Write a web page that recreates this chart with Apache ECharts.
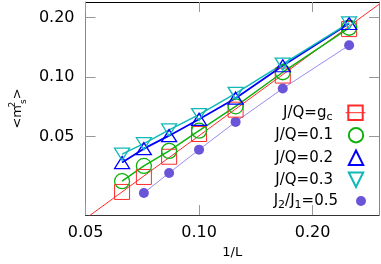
<!DOCTYPE html>
<html><head><meta charset="utf-8">
<script src="https://cdn.jsdelivr.net/npm/echarts@6/dist/echarts.min.js"></script>
<style>html,body{margin:0;padding:0;background:#fff}#c{width:381px;height:264px}</style>
</head><body><div id="c"></div>
<script>
// 1/L for L = 16,14,12,10,8,6,4
const invL = [0.0625, 0.0714, 0.0833, 0.1, 0.125, 0.1667, 0.25];
const mGc  = [0.0262, 0.0312, 0.0395, 0.0515, 0.0684, 0.1018, 0.175];
const mQ01 = [0.0297, 0.0355, 0.0423, 0.0535, 0.0711, 0.1058, 0.1777];
const mQ02 = [0.0369, 0.0434, 0.0505, 0.0611, 0.0782, 0.1141, 0.1868];
const mQ03 = [0.0407, 0.0460, 0.0540, 0.0646, 0.0827, 0.1163, 0.1880];
// 1/L for L = 14,12,10,8,6,4
const invLJ = [0.0714, 0.0833, 0.1, 0.125, 0.1667, 0.25];
const mJ2  = [0.0259, 0.0327, 0.0429, 0.0593, 0.0875, 0.1449];
// fitted line end points
const fitX = [0.05, 0.30];
const fitY = [0.0192, 0.2336];
const xTicks = [0.05, 0.10, 0.20];
const yTicks = [0.05, 0.10, 0.20];
const names = ['J/Q=gc', 'J/Q=0.1', 'J/Q=0.2', 'J/Q=0.3', 'J2/J1=0.5'];

const FONT = 'DejaVu Sans';
const pair = (xs, ys) => xs.map((x, i) => [x, ys[i]]);
const richNames = {
  'J/Q=gc': '{t|J/Q=g}{s|c}',
  'J/Q=0.1': '{t|J/Q=0.1}',
  'J/Q=0.2': '{t|J/Q=0.2}',
  'J/Q=0.3': '{t|J/Q=0.3}',
  'J2/J1=0.5': '{t|J}{s|2}{t|/J}{s|1}{t|=0.5}'
};
const colors = ['#ff2a2a', '#10b010', '#0000ff', '#10b8b8', '#6a55d8'];
const downTri = 'path://M0,0L10,0L5,8.5Z';

function mkAxis(dim, pos, isMain) {
  const isX = dim === 'x';
  const ticks = isX ? xTicks : yTicks;
  const ax = {
    type: 'log', logBase: 10, position: pos,
    min: isX ? 0.05 : 0.02, max: isX ? 0.3 : 0.24,
    splitLine: { show: false }, minorTick: { show: false }, minorSplitLine: { show: false },
    axisLine: { show: true, onZero: false, lineStyle: { color: pos === 'top' ? '#000' : (pos === 'bottom' ? '#333' : '#888'), width: 1 } },
    axisTick: { show: true, inside: true, length: 10, customValues: ticks, lineStyle: { color: '#999', width: 1 } },
    axisLabel: { show: isMain, customValues: ticks, formatter: v => Number(v).toFixed(2),
      fontFamily: FONT, fontSize: 16, color: '#000', margin: isX ? 10 : 11 }
  };
  if (isMain && isX) {
    Object.assign(ax, { name: '1/L', nameLocation: 'middle', nameGap: 29,
      nameTextStyle: { fontFamily: FONT, fontSize: 13, color: '#000' } });
  }
  if (isMain && !isX) {
    Object.assign(ax, { name: '{m|<m}{sup|2}{sub|s}{m|>}', nameLocation: 'middle', nameGap: 57, nameRotate: 90,
      nameTextStyle: { fontFamily: FONT, fontSize: 13, color: '#000',
        rich: {
          m: { fontFamily: FONT, fontSize: 13, lineHeight: 20, color: '#000' },
          sup: { fontFamily: FONT, fontSize: 9, lineHeight: 9, verticalAlign: 'top', color: '#000', width: 1 },
          sub: { fontFamily: FONT, fontSize: 9, lineHeight: 9, verticalAlign: 'bottom', color: '#000' }
        } } });
  }
  return ax;
}

const rowTop = [104.5, 127, 149.5, 171.5, 193.5];
const legends = names.map((n, i) => ({
  data: i === 4 ? [{ name: n, icon: 'circle' }] : [n],
  orient: 'vertical', right: 15, top: rowTop[i], align: 'right',
  itemWidth: 20, itemHeight: i === 4 ? 10 : 18, padding: 0,
  formatter: nm => richNames[nm],
  lineStyle: i === 0 ? { width: 1, color: colors[0], opacity: 1 } : undefined,
  textStyle: { fontFamily: FONT, fontSize: 15, color: '#000', padding: [0, 8, 0, 0],
    rich: {
      t: { fontFamily: FONT, fontSize: 15, lineHeight: 20, color: '#000' },
      s: { fontFamily: FONT, fontSize: 11, lineHeight: 10, verticalAlign: 'bottom', color: '#000' }
    } }
}));

const hollow = (c, w) => ({ color: 'transparent', borderColor: c, borderWidth: w });

const option = {
  animation: false,
  backgroundColor: '#fff',
  grid: { left: 80, top: 2, width: 299, height: 218, containLabel: false },
  xAxis: [mkAxis('x', 'bottom', true), mkAxis('x', 'top', false)],
  yAxis: [mkAxis('y', 'left', true), mkAxis('y', 'right', false)],
  legend: legends,
  series: [
    { name: 'fit', type: 'line', data: pair(fitX, fitY), symbol: 'none', silent: true, z: 1,
      lineStyle: { color: colors[0], width: 1 }, clip: true },
    { name: names[4], type: 'line', data: pair(invLJ, mJ2), symbol: 'circle', symbolSize: 10, z: 2,
      itemStyle: { color: colors[4] }, lineStyle: { color: '#9a8cec', width: 1 } },
    { name: names[0], type: 'line', data: pair(invL, mGc), symbol: 'rect', symbolSize: 15, z: 3,
      itemStyle: hollow(colors[0], 1), lineStyle: { width: 0, opacity: 0 } },
    { name: names[1], type: 'line', data: pair(invL, mQ01), symbol: 'circle', symbolSize: 15, z: 3,
      itemStyle: hollow(colors[1], 1.3), lineStyle: { color: colors[1], width: 1.5 } },
    { name: names[2], type: 'line', data: pair(invL, mQ02), symbol: 'triangle', symbolSize: [15, 12], z: 3,
      itemStyle: hollow(colors[2], 1.3), lineStyle: { color: colors[2], width: 1.8 } },
    { name: names[3], type: 'line', data: pair(invL, mQ03), symbol: downTri, symbolSize: [15, 12], z: 3,
      itemStyle: hollow(colors[3], 1.3), lineStyle: { color: colors[3], width: 1.5 } }
  ]
};
const chart = echarts.init(document.getElementById('c'), null, { renderer: 'canvas' });
chart.setOption(option);
</script></body></html>
